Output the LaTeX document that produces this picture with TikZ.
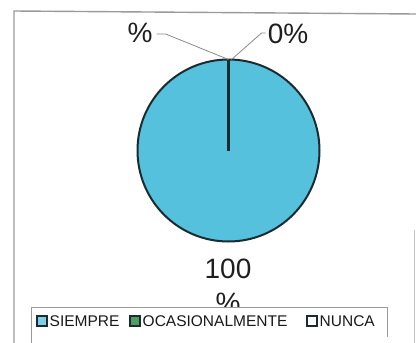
\documentclass[tikz,border=0pt]{standalone}
\usepackage{fontspec}
\setmainfont{Liberation Sans}
\definecolor{pieblue}{HTML}{55C1DD}
\definecolor{piedark}{HTML}{1C2B30}
\definecolor{legblue}{HTML}{7FD0E6}
\definecolor{leggreen}{HTML}{4E9E62}
\definecolor{framegray}{HTML}{9A9A9A}
\definecolor{leadgray}{HTML}{8A8A8A}
\tikzset{
  bigtxt/.style={inner sep=0pt, font=\fontsize{28}{34}\selectfont, text=black!88},
  legtxt/.style={inner sep=0pt, anchor=west, font=\fontsize{15.5}{18}\selectfont, text=black!90},
  legsq/.style={draw=piedark, line width=1.8pt, minimum size=10pt, inner sep=0pt},
  leader/.style={draw=leadgray, line width=0.8pt},
}
\begin{document}
\begin{tikzpicture}[x=1pt,y=-1pt]
\useasboundingbox (0,0) rectangle (416,343);
\fill[white] (0,0) rectangle (416,343);
% outer frame
\draw[framegray, line width=1.4pt] (14,345) -- (14,11) -- (416,14);
\draw[framegray!60, line width=1pt] (414,230) -- (414,345);
% pie
\coordinate (c) at (228.5,150.5);
\coordinate (ptop) at (228.5,59.5);
\fill[pieblue] (c) circle (91);
\draw[piedark, line width=2pt] (c) circle (91);
\draw[piedark, line width=2.2pt] (c) -- (ptop);
% top labels
\node[bigtxt] (pl) at (140,33) {\%};
\node[bigtxt] (p0) at (288,34) {0\%};
\draw[leader] (pl.east) ++(4,1) -- ++(9,0) -- (ptop);
\draw[leader] (p0.west) ++(-2,-1) -- ++(-4,0) -- ([xshift=3pt]ptop);
% bottom label
\node[bigtxt, align=center, anchor=north] (p100) at (228,258.5) {100\\\%};
% legend
\fill[white] (31,307) rectangle (387,345);
\draw[framegray, line width=1pt] (31,345) -- (31,307) -- (387,307) -- (387,337);
\node[legsq, fill=legblue] (s1) at (42,321) {};
\node[legtxt] (t1) at (49.5,321) {SIEMPRE};
\node[legsq, fill=leggreen] (s2) at (135,321) {};
\node[legtxt] (t2) at (142.5,321) {OCASIONALMENTE};
\node[legsq, fill=white] (s3) at (312,321) {};
\node[legtxt] (t3) at (319.5,321) {NUNCA};
\end{tikzpicture}
\end{document}
